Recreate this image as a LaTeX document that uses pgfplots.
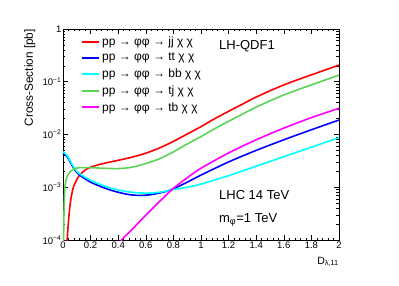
\documentclass[border=0pt]{standalone}
\usepackage{fontspec}
\setmainfont{Liberation Sans}
\usepackage{pgfplots}
\pgfplotsset{compat=1.18}
\definecolor{rootgreen}{rgb}{0.35,0.83,0.33}
\definecolor{rootred}{rgb}{1,0,0}
\definecolor{rootblue}{rgb}{0,0,1}
\definecolor{rootcyan}{rgb}{0,1,1}
\definecolor{rootmagenta}{rgb}{1,0,1}
\begin{document}
\begin{tikzpicture}
\path[use as bounding box] (-63pt,-46pt) rectangle (336pt,240pt);
\begin{axis}[
  at={(0,0)}, anchor=south west,
  scale only axis, width=276pt, height=211pt,
  xmin=0, xmax=2, ymin=1e-4, ymax=1,
  ymode=log,
  xtick={0,0.2,...,2.01},
  minor x tick num=4,
  ytick={1e-4,1e-3,1e-2,1e-1,1},
  yticklabels={10\textsuperscript{−4},10\textsuperscript{−3},10\textsuperscript{−2},10\textsuperscript{−1},1},
  /pgf/number format/assume math mode=true,
  ticklabel style={font=\fontsize{9.5}{11}\selectfont, inner sep=1.5pt},
  major tick length=5pt, minor tick length=2.5pt,
  axis line style={line width=0.8pt},
  tick style={line width=0.5pt, black},
  xlabel={D\textsubscript{λ,11}},
  xlabel style={at={(axis description cs:1,-0.08)}, anchor=north east, font=\fontsize{10.5}{12}\selectfont, inner sep=0pt},
  ylabel={Cross-Section [pb]},
  ylabel style={at={(axis description cs:-0.12,1)}, anchor=east, font=\fontsize{11.8}{13}\selectfont, inner sep=0pt},
  legend style={at={(axis description cs:0.065,0.975)}, anchor=north west, draw=none, fill=none,
     font=\fontsize{12}{14}\selectfont, row sep=2.5pt, inner sep=0pt},
  legend cell align=left,
  legend image code/.code={\draw[#1] (0pt,0pt) -- (17pt,0pt);},
]
\addlegendimage{draw=rootred, line width=2pt}
\addlegendentry{pp → φφ → jj χ χ}
\addlegendimage{draw=rootblue, line width=2pt}
\addlegendentry{pp → φφ → tt χ χ}
\addlegendimage{draw=rootcyan, line width=2pt}
\addlegendentry{pp → φφ → bb χ χ}
\addlegendimage{draw=rootgreen, line width=2pt}
\addlegendentry{pp → φφ → tj χ χ}
\addlegendimage{draw=rootmagenta, line width=2pt}
\addlegendentry{pp → φφ → tb χ χ}
% red: jj
\addplot[rootred, line width=1.6pt, smooth, forget plot] coordinates {
(0.026,7e-5) (0.03,1e-4) (0.04,2.3e-4) (0.05,4.3e-4) (0.06,6.6e-4) (0.075,1.0e-3) (0.1,1.4e-3)
(0.125,1.75e-3) (0.17,2.2e-3) (0.22,2.5e-3) (0.3,2.85e-3) (0.4,3.24e-3) (0.5,3.72e-3)
(0.6,4.42e-3) (0.7,5.56e-3) (0.8,7.41e-3) (0.9,0.0102) (1.0,0.0141) (1.1,0.020)
(1.2,0.0275) (1.3,0.0376) (1.4,0.0513) (1.6,0.0871) (1.8,0.135) (2.0,0.2065)};
% blue: tt
\addplot[rootblue, line width=1.6pt, smooth, forget plot] coordinates {
(0,4.5e-3) (0.03,3.8e-3) (0.06,2.75e-3) (0.1,1.9e-3) (0.15,1.5e-3) (0.22,1.18e-3)
(0.34,8.9e-4) (0.46,7.4e-4) (0.55,7.0e-4) (0.63,7.2e-4) (0.7,7.8e-4) (0.78,8.9e-4)
(0.9,1.245e-3) (1.0,1.7e-3) (1.2,3.02e-3) (1.4,5.0e-3) (1.6,7.94e-3) (1.8,0.0123) (2.0,0.0188)};
% cyan: bb
\addplot[rootcyan, line width=1.6pt, smooth, forget plot] coordinates {
(0,4.7e-3) (0.03,4.0e-3) (0.06,2.9e-3) (0.1,2.0e-3) (0.15,1.6e-3) (0.22,1.28e-3)
(0.34,9.7e-4) (0.46,8.3e-4) (0.56,7.8e-4) (0.65,7.8e-4) (0.72,8.2e-4) (0.8,9.0e-4)
(0.9,1.0e-3) (1.0,1.15e-3) (1.2,1.66e-3) (1.4,2.51e-3) (1.6,3.8e-3) (1.8,5.75e-3) (2.0,8.7e-3)};
% green: tj
\addplot[rootgreen, line width=1.6pt, smooth, forget plot] coordinates {
(0.002,6e-5) (0.004,1e-4) (0.008,4e-4) (0.013,9e-4) (0.02,1.3e-3) (0.04,1.8e-3) (0.075,2.2e-3)
(0.12,2.35e-3) (0.2,2.35e-3) (0.3,2.29e-3) (0.4,2.26e-3) (0.5,2.40e-3) (0.6,2.82e-3)
(0.7,3.47e-3) (0.8,4.68e-3) (0.9,6.61e-3) (1.0,9.12e-3) (1.1,0.0129) (1.2,0.0178)
(1.3,0.0243) (1.4,0.0331) (1.6,0.0562) (1.8,0.0871) (2.0,0.1334)};
% magenta: tb
\addplot[rootmagenta, line width=1.6pt, smooth, forget plot] coordinates {
(0.40,7e-5) (0.425,1e-4) (0.5,1.58e-4) (0.6,2.95e-4) (0.7,5.37e-4) (0.8,9.55e-4)
(0.9,1.51e-3) (1.0,2.29e-3) (1.2,4.47e-3) (1.4,7.94e-3) (1.6,0.0132)
(1.8,0.0209) (2.0,0.0314)};
\node[anchor=base west, font=\fontsize{13}{15}\selectfont, inner sep=0pt] at (axis description cs:0.565,0.905) {LH-QDF1};
\node[anchor=base west, font=\fontsize{13}{15}\selectfont, inner sep=0pt] at (axis description cs:0.565,0.19) {LHC 14 TeV};
\node[anchor=base west, font=\fontsize{13}{15}\selectfont, inner sep=0pt] at (axis description cs:0.565,0.082) {m\textsubscript{φ}=1 TeV};
\end{axis}
\end{tikzpicture}
\end{document}
